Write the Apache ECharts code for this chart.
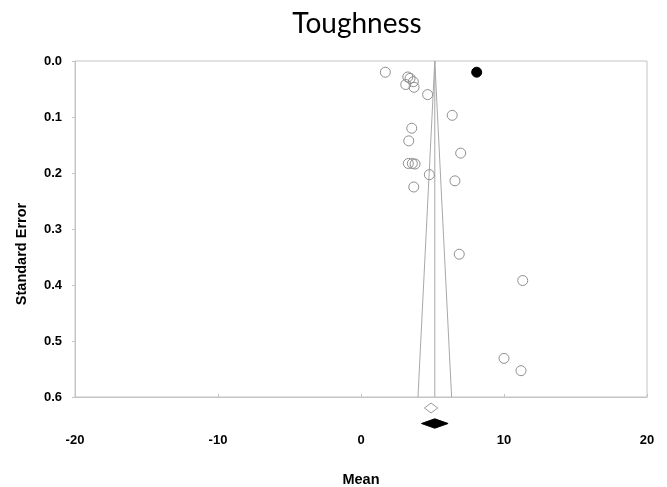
<!DOCTYPE html>
<html>
<head>
<meta charset="utf-8">
<script src="https://cdn.jsdelivr.net/npm/echarts@6/dist/echarts.min.js"></script>
<style>
  html, body { margin: 0; padding: 0; background: #ffffff; }
  #chart { width: 667px; height: 487px; }
</style>
</head>
<body>
<div id="chart"></div>
<script>
// Observed studies: effect (mean) and its standard error
const studyMeans  = [1.70, 3.27, 3.43, 3.13, 3.66, 3.71, 4.66, 6.38, 3.55, 3.34, 6.97,
                     3.31, 3.59, 3.78, 4.78, 6.57, 3.69, 6.87, 11.31, 10.00, 11.19];
const studyErrors = [0.020, 0.0285, 0.031, 0.042, 0.037, 0.047, 0.060, 0.097, 0.120, 0.1426, 0.1645,
                     0.183, 0.183, 0.184, 0.203, 0.214, 0.225, 0.345, 0.392, 0.531, 0.553];

// Imputed study (trim and fill)
const imputedMeans  = [8.09];
const imputedErrors = [0.020];

// Summary estimates: [point, lower, upper]
const observedSummary = [4.90, 4.43, 5.37];
const adjustedSummary = [5.16, 4.23, 6.09];

// Funnel settings
const funnelCenter = 5.16;
const zCrit = 1.96;
const seMax = 0.6;

// Axis ticks
const meanTicks = { min: -20, max: 20, step: 10 };
const seTicks   = { min: 0, max: 0.6, step: 0.1 };

const studyPoints   = studyMeans.map((m, i) => [m, studyErrors[i]]);
const imputedPoints = imputedMeans.map((m, i) => [m, imputedErrors[i]]);

const funnelLeft   = [[funnelCenter, 0], [funnelCenter - zCrit * seMax, seMax]];
const funnelRight  = [[funnelCenter, 0], [funnelCenter + zCrit * seMax, seMax]];
const funnelMiddle = [[funnelCenter, 0], [funnelCenter, seMax]];

const axisGray = '#c4c4c4';
const lineGray = '#a8a8a8';
const tickFont = { fontFamily: 'Liberation Sans, Arial, sans-serif', fontWeight: 'bold', fontSize: 13, color: '#000' };
const nameFont = { fontFamily: 'Liberation Sans, Arial, sans-serif', fontWeight: 'bold', fontSize: 14.5, color: '#000' };

function funnelLine(data) {
  return {
    type: 'line', data: data, symbol: 'none', silent: true,
    lineStyle: { color: lineGray, width: 1 }, z: 2
  };
}

// Diamond rows drawn under the axis: [point, lower, upper, row]
const diamondData = [
  [observedSummary[0], observedSummary[1], observedSummary[2], 0],
  [adjustedSummary[0], adjustedSummary[1], adjustedSummary[2], 1]
];

const chart = echarts.init(document.getElementById('chart'), null, { renderer: 'canvas' });
chart.setOption({
  animation: false,
  backgroundColor: '#ffffff',
  title: {
    text: 'Toughness',
    left: 352, top: 5, textAlign: 'center',
    textStyle: { fontFamily: 'Lato, sans-serif', fontWeight: 'normal', fontSize: 28, color: '#000' }
  },
  grid: {
    left: 75, right: 20, top: 61, bottom: 90,
    outerBoundsMode: 'none', containLabel: false,
    show: true, borderColor: axisGray, borderWidth: 1, backgroundColor: 'transparent'
  },
  xAxis: {
    type: 'value', min: meanTicks.min, max: meanTicks.max, interval: meanTicks.step,
    name: 'Mean', nameLocation: 'middle', nameGap: 75,
    nameTextStyle: nameFont,
    axisLine: { show: true, onZero: false, lineStyle: { color: axisGray } },
    axisTick: { show: true, inside: true, length: 3, lineStyle: { color: axisGray } },
    axisLabel: Object.assign({ margin: 37 }, tickFont),
    splitLine: { show: false }
  },
  yAxis: {
    type: 'value', inverse: true, min: seTicks.min, max: seTicks.max, interval: seTicks.step,
    name: 'Standard Error', nameLocation: 'middle', nameGap: 46, nameRotate: 90,
    nameTextStyle: Object.assign({ padding: [0, 50, 0, 0] }, nameFont),
    axisLine: { show: true, onZero: false, lineStyle: { color: axisGray } },
    axisTick: { show: true, length: 3, lineStyle: { color: axisGray } },
    axisLabel: Object.assign({ margin: 13, formatter: v => v.toFixed(1) }, tickFont),
    splitLine: { show: false }
  },
  series: [
    funnelLine(funnelLeft),
    funnelLine(funnelRight),
    funnelLine(funnelMiddle),
    {
      type: 'scatter', data: studyPoints, symbol: 'circle', symbolSize: 10,
      itemStyle: { color: 'rgba(255,255,255,0)', borderColor: '#8f8f8f', borderWidth: 1, opacity: 1 },
      z: 3
    },
    {
      type: 'scatter', data: imputedPoints, symbol: 'circle', symbolSize: 10,
      itemStyle: { color: '#000', borderColor: '#000', borderWidth: 1, opacity: 1 },
      z: 4
    },
    {
      type: 'custom', clip: false, data: diamondData, z: 5,
      renderItem: function (params, api) {
        const row = api.value(3);
        const base = api.coord([api.value(0), seMax]);
        const lo = api.coord([api.value(1), seMax]);
        const hi = api.coord([api.value(2), seMax]);
        const cy = base[1] + (row === 0 ? 11 : 26.5);
        const h = row === 0 ? 5 : 4.7;
        const pts = [[lo[0], cy], [base[0], cy - h], [hi[0], cy], [base[0], cy + h]];
        return {
          type: 'polygon',
          shape: { points: pts },
          style: row === 0
            ? { fill: '#fff', stroke: '#9a9a9a', lineWidth: 1 }
            : { fill: '#000', stroke: '#000', lineWidth: 1 }
        };
      }
    }
  ]
});
</script>
</body>
</html>
